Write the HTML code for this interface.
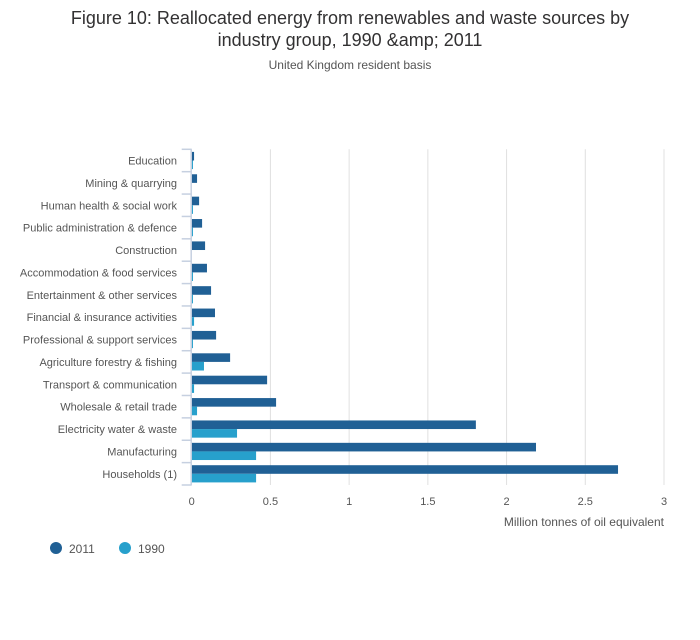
<!DOCTYPE html>
<html><head><meta charset="utf-8"><style>
body{margin:0;background:#fff;font-family:"Liberation Sans","DejaVu Sans",sans-serif;}
svg text{font-family:"Liberation Sans","DejaVu Sans",sans-serif;}
</style></head><body>
<svg id="chart" width="700" height="635" xmlns="http://www.w3.org/2000/svg">
<text x="350" y="24" text-anchor="middle" font-size="18" fill="#323132">Figure 10: Reallocated energy from renewables and waste sources by</text>
<text x="350" y="46" text-anchor="middle" font-size="18" fill="#323132">industry group, 1990 &amp;amp; 2011</text>
<text x="350" y="69" text-anchor="middle" font-size="12" fill="#555">United Kingdom resident basis</text>
<g id="grid"></g><g id="bars"></g><g id="axes"></g>
<text x="664" y="526" text-anchor="end" font-size="12" fill="#555">Million tonnes of oil equivalent</text>
<g><circle cx="56" cy="548" r="6" fill="#206095"/><text x="69" y="553" font-size="12" fill="#555">2011</text></g>
<g><circle cx="125" cy="548" r="6" fill="#27a0cc"/><text x="138" y="553" font-size="12" fill="#555">1990</text></g>
</svg>
<script>
const categories=["Education","Mining & quarrying","Human health & social work","Public administration & defence","Construction","Accommodation & food services","Entertainment & other services","Financial & insurance activities","Professional & support services","Agriculture forestry & fishing","Transport & communication","Wholesale & retail trade","Electricity water & waste","Manufacturing","Households (1)"];
const values2011=[0.015,0.034,0.047,0.066,0.085,0.097,0.123,0.148,0.155,0.244,0.479,0.536,1.805,2.187,2.708];
const values1990=[0.008,0,0.008,0.008,0,0.008,0.008,0.015,0.008,0.078,0.015,0.034,0.288,0.409,0.409];
const xTicks=[0,0.5,1,1.5,2,2.5,3];
const xTickLabels=["0","0.5","1","1.5","2","2.5","3"];
const NS="http://www.w3.org/2000/svg";
const x0=191.7,x1=664,plotTop=149.3,plotBot=485;
const xs=v=>x0+(x1-x0)*v/3;
const band=(plotBot-plotTop)/categories.length;
const ys=i=>plotTop+i*band;
function mk(t,a,p){const e=document.createElementNS(NS,t);for(const k in a)e.setAttribute(k,a[k]);p.appendChild(e);return e;}
const g=document.getElementById('grid'),b=document.getElementById('bars'),ax=document.getElementById('axes');
xTicks.forEach((t,i)=>{
 if(t>0){const l=mk('line',{x1:xs(t),x2:xs(t),y1:plotTop,y2:plotBot,stroke:'#e0e0e0','stroke-width':1},g);
 
 }
 const tx=mk('text',{x:xs(t),y:505,'text-anchor':'middle','font-size':11,fill:'#555'},ax);tx.textContent=xTickLabels[i];
 
 
});
const al=mk('line',{x1:x0-0.5,x2:x0-0.5,y1:plotTop,y2:plotBot,stroke:'#c6d0e0','stroke-width':1.5},ax);


for(let i=0;i<=categories.length;i++){mk('line',{x1:x0-10,x2:x0,y1:ys(i),y2:ys(i),stroke:'#c6d0e0','stroke-width':1.5},ax);}
const bh=8.6,pad=(band-2*bh)/2;
categories.forEach((c,i)=>{
 const y=ys(i);
 const r1=mk('rect',{x:x0,y:y+pad,width:xs(values2011[i])-x0,height:bh,fill:'#206095'},b);
 
 
 const r2=mk('rect',{x:x0,y:y+pad+bh,width:xs(values1990[i])-x0,height:bh,fill:'#27a0cc'},b);
 
 
 const t=mk('text',{x:177,y:y+band/2+4,'text-anchor':'end','font-size':11,fill:'#555'},ax);t.textContent=c;
 
 
});
</script>
</body></html>
